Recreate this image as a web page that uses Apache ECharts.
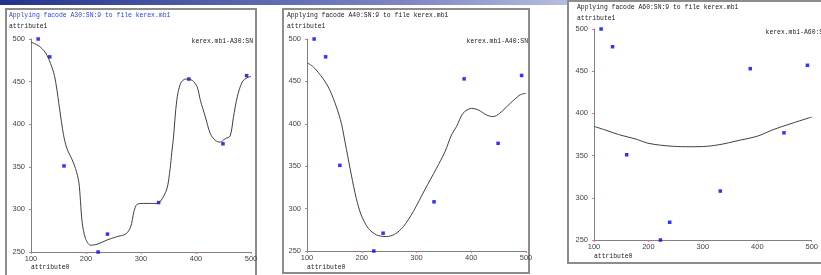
<!DOCTYPE html>
<html>
<head>
<meta charset="utf-8">
<script src="https://cdn.jsdelivr.net/npm/echarts@6/dist/echarts.min.js"></script>
<style>
    html, body { margin: 0; padding: 0; background: #fff; }
    #main { width: 821px; height: 275px; }
</style>
</head>
<body>
<div id="main"></div>
<script>
// measured points (same in all three panels)
var pointX = [113, 134, 160, 222, 239, 332, 387, 449, 492];
var pointY = [500, 479, 351, 250, 271, 308, 453, 377, 457];

// fitted curve A30
var a30X = [100, 117, 129, 141, 146, 152, 159, 165, 175, 181, 187, 190, 193, 199, 208, 220, 238, 256, 272, 281, 287, 293, 305, 329, 335, 347, 353, 356, 359, 365, 372, 381, 393, 402, 408, 417, 426, 435, 444, 453, 462, 468, 475, 484, 493, 500];
var a30Y = [496.5, 490.6, 481, 461, 445, 418, 388, 372, 358, 348, 332, 309, 285, 266, 258, 259, 264, 268, 271, 279, 297, 306, 307, 307, 309, 324, 348, 367, 384, 428, 448, 453, 451.5, 444, 428, 408.5, 389, 381, 379, 383, 386, 408, 432, 449.5, 454.6, 456];

// fitted curve A40
var a40X = [100, 111, 129, 141.5, 153.7, 163, 167, 172, 181, 190, 199, 212, 227, 245, 260, 276, 294, 315, 336.5, 352, 364, 373, 385, 400.5, 413, 428, 440, 452, 471, 489, 500];
var a40Y = [472, 467.4, 453.6, 440, 420, 400, 387, 370, 339.6, 312, 292.5, 276.7, 269, 267, 269.7, 278.7, 296.4, 322, 347.5, 367, 387, 396.6, 412.4, 418.2, 416.3, 410.4, 408.4, 412.4, 424, 434, 436];

// fitted curve A60
var a60X = [100, 120, 145, 180, 197, 220, 246, 275, 307, 335, 359, 400, 429, 460, 494, 500];
var a60Y = [384.6, 380.5, 375, 369, 365, 362.5, 361, 360.5, 361, 363.5, 367, 373, 380.7, 387.5, 394.5, 395.5];

var xTicks = [100, 200, 300, 400, 500];
var yTicks = [250, 300, 350, 400, 450, 500];

var codes = ['A30:SN', 'A40:SN', 'A60:SN'];

function zip(xs, ys) {
    var out = [];
    for (var i = 0; i < xs.length; i++) out.push([xs[i], ys[i]]);
    return out;
}

// panel layout: frame, plot area, text anchors
var panels = [
    {frame: [6, 9, 250, 290], grid: [31, 39, 220, 213], title: [9, 15], legend: [253, 41], xname: [31, 267], titleColor: '#2a46e8'},
    {frame: [283, 9, 246, 264], grid: [307, 39, 219, 212], title: [287, 15], legend: [528, 41], xname: [307, 267], titleColor: '#222'},
    {frame: [568, 1, 280, 262], grid: [594, 29, 230, 211], title: [577, 7], legend: [827, 32], xname: [594, 256], titleColor: '#222'}
];
var curves = [zip(a30X, a30Y), zip(a40X, a40Y), zip(a60X, a60Y)];

function monoText(txt, x, y, color, align) {
    return {
        type: 'text', x: x, y: y, scaleX: 0.8, z: 10,
        style: {
            text: txt, fill: color, fontSize: 8, fontFamily: 'Liberation Mono',
            align: align || 'left', verticalAlign: 'middle'
        }
    };
}

function bindEcharts() {
    var myChart = echarts.init(document.getElementById('main'));
    var grid = [], xAxis = [], yAxis = [], series = [], graphic = [];

    // slide header gradient
    graphic.push({
        type: 'rect', z: -20,
        shape: {x: 0, y: 0, width: 821, height: 5},
        style: {fill: new echarts.graphic.LinearGradient(0, 0, 1, 0, [
            {offset: 0, color: '#24328a'},
            {offset: 0.5, color: '#7e88c4'},
            {offset: 0.93, color: '#ffffff'}
        ])}
    });

    var pts = zip(pointX, pointY);

    panels.forEach(function (p, i) {
        graphic.push({
            type: 'rect', z: -10,
            shape: {x: p.frame[0], y: p.frame[1], width: p.frame[2], height: p.frame[3]},
            style: {fill: '#fff', stroke: '#8c8c8c', lineWidth: 2}
        });
        var t = 'Applying facode ' + codes[i].replace(':SN', ':SN:9') + ' to file kerex.mb1';
        graphic.push(monoText(t, p.title[0], p.title[1], p.titleColor));
        graphic.push(monoText('attribute1', p.title[0], p.title[1] + 11, '#222'));
        graphic.push(monoText('kerex.mb1-' + codes[i], p.legend[0], p.legend[1], '#222', 'right'));
        graphic.push(monoText('attribute0', p.xname[0], p.xname[1], '#222'));

        grid.push({left: p.grid[0], top: p.grid[1], width: p.grid[2], height: p.grid[3]});

        var axisCommon = {
            type: 'value',
            gridIndex: i,
            splitLine: {show: false},
            axisLine: {show: true, lineStyle: {color: '#808080', width: 1}},
            axisTick: {show: true, length: 2, lineStyle: {color: '#f07070'}},
            axisLabel: {color: '#444', fontSize: 7.5, fontFamily: 'Liberation Sans'}
        };
        xAxis.push(Object.assign({}, axisCommon, {
            min: xTicks[0], max: xTicks[xTicks.length - 1], interval: 100,
            axisLabel: Object.assign({}, axisCommon.axisLabel, {margin: 3})
        }));
        yAxis.push(Object.assign({}, axisCommon, {
            min: yTicks[0], max: yTicks[yTicks.length - 1], interval: 50,
            axisLabel: Object.assign({}, axisCommon.axisLabel, {margin: 6})
        }));

        series.push({
            type: 'line',
            xAxisIndex: i, yAxisIndex: i,
            data: curves[i],
            smooth: 0.3,
            showSymbol: false,
            lineStyle: {color: '#404040', width: 1},
            silent: true
        });
        series.push({
            type: 'scatter',
            xAxisIndex: i, yAxisIndex: i,
            data: pts,
            symbol: 'rect',
            symbolSize: 3.5,
            itemStyle: {color: '#0000ff'},
            silent: true
        });
    });

    var option = {
        animation: false,
        backgroundColor: '#fff',
        grid: grid,
        xAxis: xAxis,
        yAxis: yAxis,
        series: series,
        graphic: graphic
    };
    myChart.setOption(option);
}

bindEcharts();
</script>
</body>
</html>
